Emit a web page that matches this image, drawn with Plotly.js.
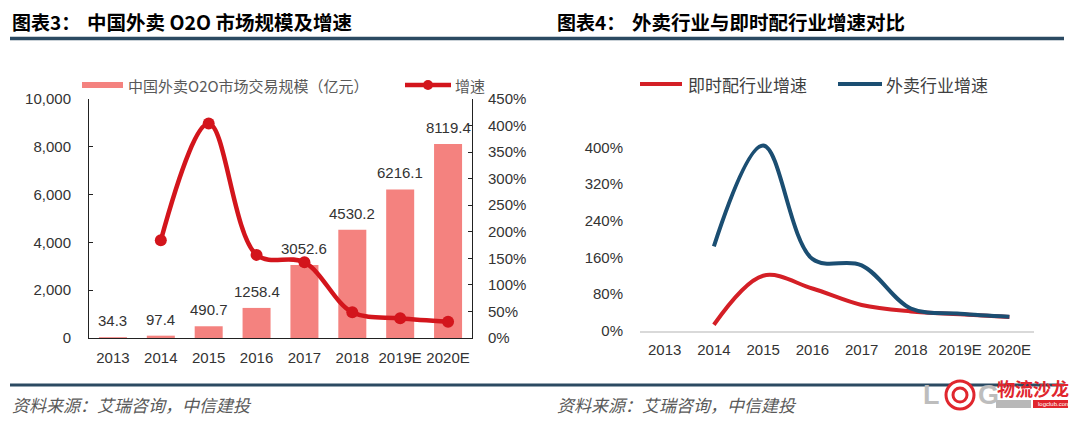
<!DOCTYPE html>
<html>
<head>
<meta charset="utf-8">
<script src="https://cdn.plot.ly/plotly-3.0.1.min.js"></script>
<style>html,body{margin:0;padding:0;background:#fff;}#chart{width:1080px;height:428px;}</style>
</head>
<body>
<div id="chart"></div>
<script>
// ---------- data ----------
const categories = ['2013', '2014', '2015', '2016', '2017', '2018', '2019E', '2020E'];
const marketSize = [34.3, 97.4, 490.7, 1258.4, 3052.6, 4530.2, 6216.1, 8119.4];   // 亿元
const marketGrowth = [null, 184.0, 403.8, 156.5, 142.6, 48.4, 37.2, 30.6];         // %
const deliveryGrowth = [null, 13, 120, 92, 56, 42, 36, 30];                         // 即时配行业增速 %
const takeoutGrowth = [null, 184.0, 403.8, 156.5, 142.6, 48.4, 37.2, 30.6];        // 外卖行业增速 %
const leftYTicks = [0, 2000, 4000, 6000, 8000, 10000];
const rightPctTicks = [0, 80, 160, 240, 320, 400];

const titleLeftA = '图表3：', titleLeftB = '中国外卖 O2O 市场规模及增速';
const titleRightA = '图表4：', titleRightB = '外卖行业与即时配行业增速对比';
const legendBar = '中国外卖O2O市场交易规模（亿元）', legendGrowth = '增速';
const legendDelivery = '即时配行业增速', legendTakeout = '外卖行业增速';
const sourceText = '资料来源：艾瑞咨询，中信建投';

// ---------- helpers ----------
const W = 1080, H = 428;
const X = p => p / W;
const Y = p => 1 - p / H;
const FONT = 'Liberation Sans, Arial, Noto Sans CJK SC, sans-serif';
const CJK = 'Noto Sans CJK SC, Liberation Sans, sans-serif';

const barColor = '#f4827f';
const lineRed = '#d3151c';
const rRed = '#d41f26';
const rBlue = '#1b4e72';
const rule = '#2b4a62';

// ---------- traces ----------
const traces = [
  {type: 'bar', x: categories, y: marketSize, xaxis: 'x', yaxis: 'y',
   marker: {color: barColor}, hoverinfo: 'skip'},
  {type: 'scatter', mode: 'lines+markers', x: categories, y: marketGrowth, xaxis: 'x', yaxis: 'y2',
   line: {color: lineRed, width: 4.5, shape: 'spline', smoothing: 1},
   marker: {color: lineRed, size: 12}, connectgaps: false, hoverinfo: 'skip'},
  {type: 'scatter', mode: 'lines', x: categories, y: deliveryGrowth, xaxis: 'x3', yaxis: 'y3',
   line: {color: rRed, width: 4, shape: 'spline', smoothing: 1}, hoverinfo: 'skip'},
  {type: 'scatter', mode: 'lines', x: categories, y: takeoutGrowth, xaxis: 'x3', yaxis: 'y3',
   line: {color: rBlue, width: 4, shape: 'spline', smoothing: 1}, hoverinfo: 'skip'}
];

// ---------- annotations ----------
const ann = [];
function txt(x, y, text, size, opts) {
  ann.push(Object.assign({xref: 'paper', yref: 'paper', x: X(x), y: Y(y), text: text,
    showarrow: false, xanchor: 'left', yanchor: 'middle',
    font: {family: CJK, size: size, color: '#000'}}, opts || {}));
}
// titles
txt(10, 21, '<b>' + titleLeftA + '</b>', 19);
txt(85, 21, '<b>' + titleLeftB + '</b>', 19.5);
txt(555, 21, '<b>' + titleRightA + '</b>', 19);
txt(630, 21, '<b>' + titleRightB + '</b>', 19.5);
// legends
txt(126, 85, legendBar, 15, {font: {family: CJK, size: 15, color: '#595959'}});
txt(453, 85, legendGrowth, 15, {font: {family: CJK, size: 15, color: '#595959'}});
txt(686, 84, legendDelivery, 17, {font: {family: CJK, size: 17, color: '#404040'}});
txt(884, 84, legendTakeout, 17, {font: {family: CJK, size: 17, color: '#404040'}});
// sources
txt(10, 404, '<i>' + sourceText + '</i>', 17, {font: {family: CJK, size: 17, color: '#595959'}});
txt(555, 404, '<i>' + sourceText + '</i>', 17, {font: {family: CJK, size: 17, color: '#595959'}});
// logo text
txt(921, 395, '<b>L</b>', 27, {font: {family: FONT, size: 27, color: '#bdbdbd'}});
txt(976, 395, '<b>G</b>', 27, {font: {family: FONT, size: 27, color: '#bdbdbd'}});
txt(995, 388, '<b>物流沙龙</b>', 18, {font: {family: CJK, size: 18, color: '#e0262d'}});
txt(1036, 404, 'logclub.com', 6, {font: {family: FONT, size: 6, color: '#fff'}});

// bar value labels (from data); category axis positions by index
categories.forEach((c, i) => {
  ann.push({xref: 'x', yref: 'y', x: i, y: marketSize[i], text: marketSize[i].toFixed(1),
    showarrow: false, yanchor: 'bottom', yshift: 6,
    font: {family: FONT, size: 15, color: '#333'}});
});

// ---------- shapes ----------
const shapes = [
  {type: 'line', xref: 'paper', yref: 'paper', x0: X(10), x1: X(1064), y0: Y(38.5), y1: Y(38.5),
   line: {color: rule, width: 3.5}},
  {type: 'line', xref: 'paper', yref: 'paper', x0: X(10), x1: X(1064), y0: Y(385), y1: Y(385),
   line: {color: rule, width: 3}},
  // left legend swatches
  {type: 'rect', xref: 'paper', yref: 'paper', x0: X(82), x1: X(123), y0: Y(82), y1: Y(88),
   fillcolor: barColor, line: {width: 0}},
  {type: 'line', xref: 'paper', yref: 'paper', x0: X(405), x1: X(451), y0: Y(85), y1: Y(85),
   line: {color: lineRed, width: 4.5}},
  {type: 'circle', xref: 'paper', yref: 'paper', x0: X(423), x1: X(433), y0: Y(80), y1: Y(90),
   fillcolor: lineRed, line: {width: 0}},
  // right legend swatches
  {type: 'line', xref: 'paper', yref: 'paper', x0: X(640), x1: X(682), y0: Y(84), y1: Y(84),
   line: {color: rRed, width: 4}},
  {type: 'line', xref: 'paper', yref: 'paper', x0: X(838), x1: X(882), y0: Y(84), y1: Y(84),
   line: {color: rBlue, width: 4}},
  // logo
  {type: 'circle', xref: 'paper', yref: 'paper', x0: X(946), x1: X(974), y0: Y(381), y1: Y(409),
   fillcolor: '#fff', line: {color: '#e0262d', width: 3}},
  {type: 'circle', xref: 'paper', yref: 'paper', x0: X(953), x1: X(967), y0: Y(388), y1: Y(402),
   fillcolor: '#fff', line: {color: '#e0262d', width: 3}},
  {type: 'rect', xref: 'paper', yref: 'paper', x0: X(996), x1: X(1031), y0: Y(400), y1: Y(408),
   fillcolor: '#b8b8b8', line: {width: 0}},
  {type: 'rect', xref: 'paper', yref: 'paper', x0: X(1033), x1: X(1068), y0: Y(400), y1: Y(408),
   fillcolor: '#e0262d', line: {width: 0}}
];

// ---------- layout ----------
const tickFont = {family: FONT, size: 15, color: '#333'};
const catRange = [-0.5, categories.length - 0.5];
const layout = {
  width: W, height: H, margin: {l: 0, r: 0, t: 0, b: 0},
  paper_bgcolor: '#fff', plot_bgcolor: 'rgba(0,0,0,0)',
  showlegend: false, bargap: 0.415,
  font: {family: FONT},
  xaxis: {domain: [X(89), X(472)], anchor: 'y', type: 'category', range: catRange,
    showline: true, linecolor: '#222', linewidth: 1, ticks: '', showgrid: false, zeroline: false,
    tickfont: tickFont, ticklabelstandoff: 6},
  yaxis: {domain: [Y(338), Y(99)], anchor: 'x', range: [0, 10000], tickvals: leftYTicks,
    tickformat: ',.0f', showline: true, linecolor: '#222', linewidth: 1, ticks: 'inside', ticklen: 4,
    tickcolor: '#222', showgrid: false, zeroline: false, tickfont: tickFont, ticklabelstandoff: 14},
  yaxis2: {overlaying: 'y', side: 'right', anchor: 'x', range: [0, 450], dtick: 50, tick0: 0,
    ticksuffix: '%', showline: true, linecolor: '#222', linewidth: 1, ticks: 'inside', ticklen: 4,
    tickcolor: '#222', showgrid: false, zeroline: false, tickfont: tickFont, ticklabelstandoff: 12},
  xaxis3: {domain: [X(640), X(1034)], anchor: 'y3', type: 'category', range: catRange,
    showline: true, linecolor: '#d9d9d9', linewidth: 2, ticks: '', showgrid: false, zeroline: false,
    tickfont: tickFont, ticklabelstandoff: 4},
  yaxis3: {domain: [Y(330.7), Y(110.7)], anchor: 'x3', range: [0, 480], tickvals: rightPctTicks,
    ticktext: rightPctTicks.map(v => v + '%'), showline: false, ticks: '', showgrid: false,
    zeroline: false, tickfont: tickFont, ticklabelstandoff: 16},
  annotations: ann,
  shapes: shapes
};

Plotly.newPlot('chart', traces, layout, {staticPlot: true, displayModeBar: false});
</script>
</body>
</html>
